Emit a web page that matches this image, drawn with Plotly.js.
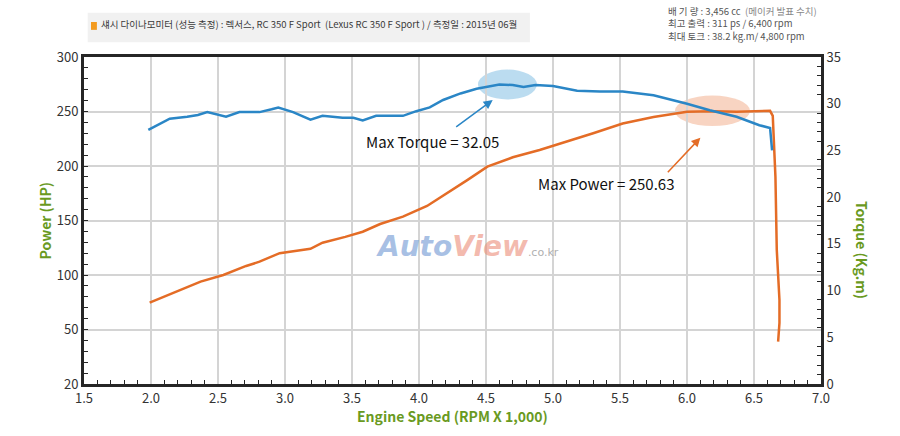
<!DOCTYPE html>
<html>
<head>
<meta charset="utf-8">
<script src="https://cdn.plot.ly/plotly-3.0.1.min.js"></script>
<style>
  html, body { margin: 0; padding: 0; background: #fff; }
  #chart { width: 900px; height: 436px; }
</style>
</head>
<body>
<div id="chart"></div>
<script>
// ---- data ----
const torqueRpm = [1.98, 2.05, 2.14, 2.27, 2.35, 2.42, 2.50, 2.56, 2.66, 2.81, 2.90, 2.95, 3.06, 3.19,
    3.28, 3.43, 3.51, 3.58, 3.68, 3.88, 3.98, 4.08, 4.18, 4.31, 4.43, 4.60, 4.70, 4.78, 4.87, 5.00,
    5.18, 5.35, 5.52, 5.75, 6.00, 6.17, 6.37, 6.54, 6.62, 6.635];
const torqueKgm = [27.2, 27.7, 28.4, 28.6, 28.8, 29.1, 28.8, 28.6, 29.1, 29.1, 29.4, 29.6, 29.1, 28.3,
    28.7, 28.5, 28.5, 28.2, 28.7, 28.7, 29.2, 29.6, 30.4, 31.1, 31.6, 32.05, 32.0, 31.8, 32.0, 31.9,
    31.4, 31.3, 31.3, 30.9, 30.0, 29.3, 28.6, 27.7, 27.4, 25.0];

const powerRpm = [1.99, 2.10, 2.22, 2.37, 2.54, 2.71, 2.81, 2.96, 3.19, 3.28, 3.45, 3.58, 3.71, 3.88,
    4.06, 4.21, 4.36, 4.51, 4.70, 4.90, 5.10, 5.30, 5.52, 5.75, 6.00, 6.20, 6.37, 6.54, 6.62, 6.64,
    6.66, 6.67, 6.69, 6.69, 6.68];
const powerHp = [74.6, 80.0, 86.2, 93.9, 100.0, 108.3, 112.2, 120.0, 124.0, 129.6, 135.0, 139.7, 146.8, 153.5,
    163.3, 175.0, 187.0, 199.4, 208.0, 214.7, 222.0, 230.0, 239.0, 245.0, 249.8, 250.3, 249.8, 250.4, 250.63, 246.0,
    190.0, 123.0, 77.0, 56.0, 38.8];

const maxTorque = { rpm: 4.66, value: 32.05 };
const maxPower = { rpm: 6.19, value: 250.63 };

const powerTicks = [0, 50, 100, 150, 200, 250, 300];
const powerTickText = ["20", "50", "100", "150", "200", "250", "300"];

const BLUE = "#2a86c6";
const ORANGE = "#e46c26";
const GREEN = "#6a9a1f";
const FONT = "'Noto Sans CJK KR', 'Noto Sans', sans-serif";

// ---- traces ----
const traces = [
    {
        x: torqueRpm, y: torqueKgm, yaxis: "y2", type: "scatter", mode: "lines",
        line: { color: BLUE, width: 2.5 }, hoverinfo: "skip"
    },
    {
        x: powerRpm, y: powerHp, yaxis: "y", type: "scatter", mode: "lines",
        line: { color: ORANGE, width: 2.5 }, hoverinfo: "skip"
    }
];

const axisLine = { showline: true, linecolor: "#262626", linewidth: 3 };

const layout = {
    width: 900, height: 436,
    margin: { l: 84, r: 79, t: 57, b: 52 },
    paper_bgcolor: "#fff", plot_bgcolor: "#fff",
    showlegend: false,
    font: { family: FONT, size: 13, color: "#333" },
    xaxis: Object.assign({}, axisLine, {
        range: [1.5, 7.0], dtick: 0.5, tick0: 1.5, tickformat: ".1f",
        showgrid: true, gridcolor: "#d4d4d4", gridwidth: 2, zeroline: false, mirror: true,
        ticks: "inside", ticklen: 0, tickfont: { size: 13, color: "#333" },
        minor: { dtick: 0.1, ticks: "inside", ticklen: 4, tickcolor: "#262626", showgrid: false }
    }),
    yaxis: Object.assign({}, axisLine, {
        range: [0, 300], tickmode: "array", tickvals: powerTicks, ticktext: powerTickText,
        showgrid: true, gridcolor: "#d4d4d4", gridwidth: 2, zeroline: false,
        ticks: "inside", ticklen: 0, tickfont: { size: 13, color: "#333" },
        minor: { tickmode: "linear", tick0: 0, dtick: 10, ticks: "inside", ticklen: 4, tickcolor: "#262626", showgrid: false }
    }),
    yaxis2: Object.assign({}, axisLine, {
        range: [0, 35], dtick: 5, overlaying: "y", side: "right",
        showgrid: false, zeroline: false,
        ticks: "inside", ticklen: 0, tickfont: { size: 13, color: "#333" },
        minor: { dtick: 1, ticks: "inside", ticklen: 4, tickcolor: "#262626", showgrid: false }
    }),
    shapes: [
        // header strip
        { type: "rect", xref: "paper", yref: "paper", x0: 0.005, x1: 0.605, y0: 1.045, y1: 1.135,
          fillcolor: "#f1f1f1", line: { width: 0 }, layer: "below" },
        { type: "rect", xref: "paper", yref: "paper", x0: 0.0095, x1: 0.0175, y0: 1.083, y1: 1.107,
          fillcolor: "#f39a1e", line: { width: 0 } },
        // highlight ellipses
        { type: "circle", xref: "x", yref: "y2",
          x0: maxTorque.rpm - 0.22, x1: maxTorque.rpm + 0.22,
          y0: maxTorque.value - 1.6, y1: maxTorque.value + 1.6,
          fillcolor: "rgba(120,185,225,0.5)", line: { width: 0 }, layer: "below" },
        { type: "circle", xref: "x", yref: "y",
          x0: maxPower.rpm - 0.28, x1: maxPower.rpm + 0.28,
          y0: maxPower.value - 14, y1: maxPower.value + 14,
          fillcolor: "rgba(240,160,120,0.45)", line: { width: 0 }, layer: "below" }
    ],
    annotations: [
        // header text
        { xref: "paper", yref: "paper", x: 0.021, y: 1.101, xanchor: "left", yanchor: "middle",
          text: "섀시 다이나모미터 (성능 측정) : 렉서스, RC 350 F Sport  (Lexus RC 350 F Sport ) / 측정일 : 2015년 06월",
          showarrow: false, font: { size: 9.5, color: "#3a3a3a" } },
        { xref: "paper", yref: "paper", x: 0.79, y: 1.168, xanchor: "left", yanchor: "top", align: "left",
          text: "배 기 량 : 3,456 cc  <span style='color:#888'>(메이커 발표 수치)</span><br>최고 출력 : 311 ps / 6,400 rpm<br>최대 토크 : 38.2 kg.m/ 4,800 rpm",
          showarrow: false, font: { size: 9.5, color: "#555" } },
        // axis titles
        { xref: "paper", yref: "paper", x: -0.053, y: 0.5, xanchor: "center", yanchor: "middle",
          textangle: -90, showarrow: false,
          text: "<b>Power (HP)</b>", font: { size: 14, color: GREEN } },
        { xref: "paper", yref: "paper", x: 1.0556, y: 0.41, xanchor: "center", yanchor: "middle",
          textangle: 90, showarrow: false,
          text: "<b>Torque (Kg.m)</b>", font: { size: 14, color: GREEN } },
        { xref: "paper", yref: "paper", x: 0.5, y: -0.098, xanchor: "center", yanchor: "middle",
          showarrow: false,
          text: "<b>Engine Speed (RPM X 1,000)</b>", font: { size: 14, color: GREEN } },
        // watermark
        { xref: "paper", yref: "paper", x: 0.52, y: 0.42, xanchor: "center", yanchor: "middle", showarrow: false,
          text: "<b><i><span style='color:rgba(110,150,210,0.6)'>Auto</span><span style='color:rgba(235,140,120,0.6)'>View</span></i></b><span style='font-size:11px;color:#b0b0b0'>.co.kr</span>",
          font: { size: 28, family: "'DejaVu Sans', sans-serif" } },
        // max torque
        { xref: "x", yref: "y2", x: 4.10, y: 26.0, xanchor: "center", yanchor: "middle", showarrow: false,
          text: "Max Torque = " + maxTorque.value.toFixed(2), font: { size: 15, color: "#111" } },
        { xref: "x", yref: "y2", x: 4.55, y: 30.4, ax: -38, ay: 28, text: "",
          showarrow: true, arrowhead: 2, arrowsize: 1.2, arrowwidth: 1.5, arrowcolor: BLUE },
        // max power
        { xref: "x", yref: "y", x: 5.40, y: 184, xanchor: "center", yanchor: "middle", showarrow: false,
          text: "Max Power = " + maxPower.value.toFixed(2), font: { size: 15, color: "#111" } },
        { xref: "x", yref: "y", x: 6.10, y: 226, ax: -34, ay: 36, text: "",
          showarrow: true, arrowhead: 2, arrowsize: 1.2, arrowwidth: 1.5, arrowcolor: ORANGE }
    ]
};

Plotly.newPlot("chart", traces, layout, { staticPlot: true, displayModeBar: false });
</script>
</body>
</html>
